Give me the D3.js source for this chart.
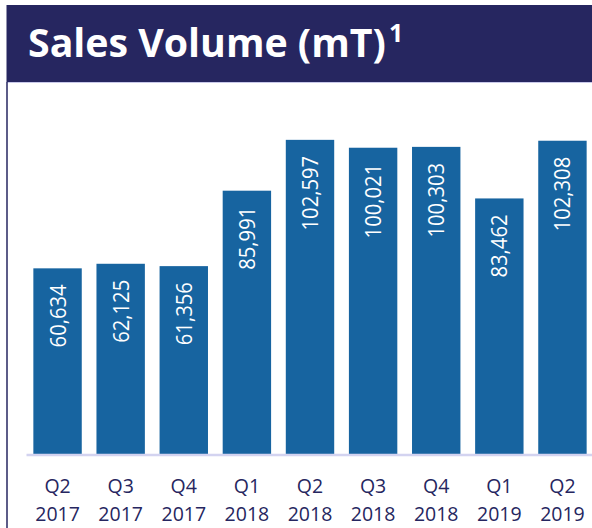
<!DOCTYPE html>
<html>
<head>
<meta charset="utf-8">
<script src="https://cdn.jsdelivr.net/npm/d3@7"></script>
<style>
  html, body { margin: 0; padding: 0; background: #ffffff; }
  svg { display: block; }
</style>
</head>
<body>
<div id="chart"></div>
<script>
const quarters = ["Q2", "Q3", "Q4", "Q1", "Q2", "Q3", "Q4", "Q1", "Q2"];
const years = ["2017", "2017", "2017", "2018", "2018", "2018", "2018", "2019", "2019"];
const volumes = [60634, 62125, 61356, 85991, 102597, 100021, 100303, 83462, 102308];
const titleText = "Sales Volume (mT)";
const titleSup = "1";

const W = 592, H = 528;
const navy = "#262660";
const barColor = "#1764a0";
const labelFont = "'Open Sans', 'Noto Sans', sans-serif";

const svg = d3.select("#chart").append("svg")
  .attr("width", W).attr("height", H);

svg.append("rect").attr("width", W).attr("height", H).attr("fill", "#fff");

// Title bar
svg.append("rect")
  .attr("x", 6.5).attr("y", 5).attr("width", W - 6.5).attr("height", 77)
  .attr("fill", navy);
svg.append("line")
  .attr("x1", 6.5).attr("x2", W).attr("y1", 82.5).attr("y2", 82.5)
  .attr("stroke", "#c9c9ea").attr("stroke-width", 1);
// Left panel border
svg.append("line")
  .attr("x1", 7).attr("x2", 7).attr("y1", 82).attr("y2", H)
  .attr("stroke", navy).attr("stroke-width", 1.5);

// Title
const tg = svg.append("g");
const title = tg.append("text")
  .attr("x", 0).attr("y", 0)
  .attr("fill", "#fff")
  .attr("font-family", labelFont)
  .attr("font-weight", 700)
  .attr("font-size", 39)
  .text(titleText);
const tw = title.node().getComputedTextLength();
const sx = 358 / tw;
title.attr("transform", `translate(28,57) scale(${sx},1)`);
tg.append("text")
  .attr("x", 389).attr("y", 42)
  .attr("fill", "#fff")
  .attr("font-family", labelFont)
  .attr("font-weight", 700)
  .attr("font-size", 25)
  .text(titleSup);

// Scales
const x = d3.scaleBand()
  .domain(d3.range(volumes.length))
  .range([26, 594])
  .paddingInner(0.233)
  .paddingOuter(0.1165);

const y = d3.scaleLinear()
  .domain([0, 110000])
  .range([454, 454 - 110000 * 0.003062]);

// Bars
svg.append("g").selectAll("rect")
  .data(volumes)
  .join("rect")
  .attr("x", (d, i) => x(i))
  .attr("y", d => y(d))
  .attr("width", x.bandwidth())
  .attr("height", d => y(0) - y(d))
  .attr("fill", barColor);

// Value labels (rotated)
svg.append("g").selectAll("text")
  .data(volumes)
  .join("text")
  .attr("transform", (d, i) => `translate(${x(i) + x.bandwidth() / 2 + 8},${y(d) + 16}) rotate(-90) scale(0.92,1)`)
  .attr("text-anchor", "end")
  .attr("fill", "#fff")
  .attr("font-family", labelFont)
  .attr("font-size", 22)
  .text(d => d3.format(",")(d));

// Axis
const axis = d3.axisBottom(x).tickSize(0).tickFormat(() => "");
const ag = svg.append("g").attr("transform", "translate(0,454.5)").call(axis);
ag.select(".domain").attr("stroke", "#d3d3f0").attr("stroke-width", 2.5);

const tickG = svg.append("g").selectAll("g")
  .data(quarters)
  .join("g")
  .attr("transform", (d, i) => `translate(${x(i) + x.bandwidth() / 2},0)`);
tickG.append("text")
  .attr("y", 493)
  .attr("text-anchor", "middle")
  .attr("fill", navy)
  .attr("font-family", labelFont)
  .attr("font-size", 19.5)
  .text(d => d);
tickG.append("text")
  .attr("y", 521)
  .attr("text-anchor", "middle")
  .attr("fill", navy)
  .attr("font-family", labelFont)
  .attr("font-size", 19.5)
  .text((d, i) => years[i]);
</script>
</body>
</html>
